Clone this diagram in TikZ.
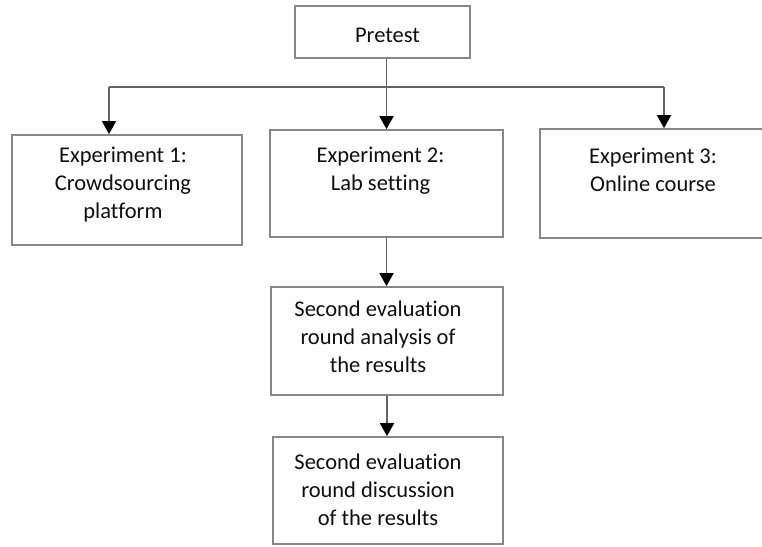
\documentclass[tikz,border=0pt]{standalone}
\usepackage{fontspec}
\setmainfont{Carlito}[Ligatures=NoCommon]
\usetikzlibrary{arrows.meta}
\definecolor{boxgray}{RGB}{135,135,135}
\definecolor{linegray}{RGB}{100,100,100}
\definecolor{ink}{RGB}{15,15,15}
\begin{document}
\begin{tikzpicture}[x=1pt,y=1pt,
  box/.style={draw=boxgray, line width=1.7pt, fill=white, inner sep=0pt},
  lbl/.style={align=center, inner sep=0pt, text=ink,
    font=\fontsize{22.5}{28}\selectfont},
  conn/.style={draw=linegray, line width=1.7pt},
  arr/.style={conn, -{Triangle[width=14pt,length=13pt,color=black,fill=black]}}]
\useasboundingbox (0,0) rectangle (762,546);

% boxes
\node[box, minimum width=175, minimum height=52] (pre) at (382.5,514) {};
\node[box, minimum width=230, minimum height=110] (e1) at (127,356) {};
\node[box, minimum width=233, minimum height=107] (e2) at (386.5,362.5) {};
\node[box, minimum width=232, minimum height=109] (e3) at (656,362.5) {};
\node[box, minimum width=232, minimum height=108] (r1) at (387,205) {};
\node[box, minimum width=230, minimum height=107] (r2) at (388,55.5) {};

% labels
\node[lbl, xshift=5pt, yshift=-3pt] (pret) at (pre.center) {Pretest};
\node[lbl, xshift=-4pt, yshift=5.5pt] (e1t) at (e1.center) {Experiment 1:\\Crowdsourcing\\platform};
\node[lbl, xshift=-6pt, yshift=13pt] (e2t) at (e2.center) {Experiment 2:\\Lab setting};
\node[lbl, xshift=-3pt, yshift=13.5pt] (e3t) at (e3.center) {Experiment 3:\\Online course};
\node[lbl, xshift=-9pt, yshift=4pt] (r1t) at (r1.center) {Second evaluation\\round analysis of\\the results};
\node[lbl, xshift=-10pt, yshift=1pt] (r2t) at (r2.center) {Second evaluation\\round discussion\\of the results};

% connectors
\coordinate (jl) at (109,459);
\coordinate (jr) at (664,459);
\draw[conn] (jl) -- (jr);
\draw[arr] (e2.north |- pre.south) -- (e2.north);
\draw[arr] (jl) -- (jl |- e1.north);
\draw[arr] (jr) -- (jr |- e3.north);
\draw[arr] (e2.south) -- (e2.south |- r1.north);
\draw[arr] (r1.south) -- (r1.south |- r2.north);
\end{tikzpicture}
\end{document}
